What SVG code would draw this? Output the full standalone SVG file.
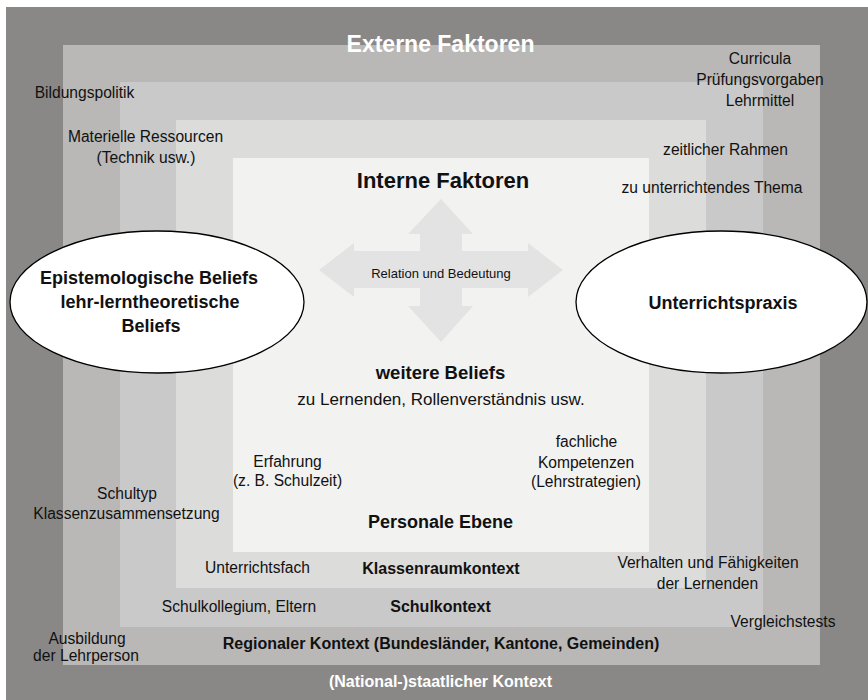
<svg xmlns="http://www.w3.org/2000/svg" width="868" height="700" viewBox="0 0 868 700">
<style>
text { font-family: "Liberation Sans", Arial, sans-serif; fill: #111; text-anchor: middle; }
.r { font-size: 15.6px; }
.b { font-size: 16px; font-weight: bold; }
.w { fill: #ffffff; font-weight: bold; }
.ell { fill: #ffffff; stroke: #000; stroke-width: 1.3; }
.eb { font-size: 18px; font-weight: bold; }
</style>
<rect x="0" y="0" width="868" height="700" fill="#ffffff"/>
<g id="layers">
<rect id="layer-national" x="6" y="7" width="862" height="693" fill="#8a8886"/>
<rect id="layer-regional" x="63" y="45" width="757" height="620" fill="#b9b8b6"/>
<rect id="layer-schule" x="120" y="82" width="643" height="545" fill="#c9c9c9"/>
<rect id="layer-klassenraum" x="176" y="120" width="530" height="468" fill="#dcdcdb"/>
<rect id="layer-personal" x="233" y="158" width="416" height="394" fill="#f2f2f1"/>
</g>
<g id="national">
<text class="w" x="440.5" y="52" style="font-size:23px">Externe Faktoren</text>
<text class="w" x="440.5" y="687" style="font-size:16px">(National-)staatlicher Kontext</text>
</g>
<g id="regional">
<text class="r" x="84.5" y="98">Bildungspolitik</text>
<text class="r" x="760" y="64">Curricula</text>
<text class="r" x="760" y="85">Prüfungsvorgaben</text>
<text class="r" x="760" y="106">Lehrmittel</text>
<text class="r" x="87" y="644">Ausbildung</text>
<text class="r" x="86" y="661">der Lehrperson</text>
<text class="r" x="783" y="627">Vergleichstests</text>
<text class="b" x="441" y="649">Regionaler Kontext (Bundesländer, Kantone, Gemeinden)</text>
</g>
<g id="schule">
<text class="r" x="145.5" y="142">Materielle Ressourcen</text>
<text class="r" x="146" y="163">(Technik usw.)</text>
<text class="r" x="127" y="499">Schultyp</text>
<text class="r" x="126.5" y="519">Klassenzusammensetzung</text>
<text class="r" x="239" y="612">Schulkollegium, Eltern</text>
<text class="b" x="440.5" y="612">Schulkontext</text>
</g>
<g id="klassenraum">
<text class="r" x="725.5" y="155">zeitlicher Rahmen</text>
<text class="r" x="712" y="193">zu unterrichtendes Thema</text>
<text class="r" x="257.5" y="573">Unterrichtsfach</text>
<text class="b" x="441" y="574">Klassenraumkontext</text>
<text class="r" x="708" y="568">Verhalten und Fähigkeiten</text>
<text class="r" x="707.5" y="589">der Lernenden</text>
</g>
<g id="personal">
<text x="443" y="188" style="font-size:22px;font-weight:bold">Interne Faktoren</text>
<text x="440.5" y="379" style="font-size:18.5px;font-weight:bold">weitere Beliefs</text>
<text x="441" y="405" style="font-size:17px">zu Lernenden, Rollenverständnis usw.</text>
<text class="r" x="287.5" y="467">Erfahrung</text>
<text class="r" x="287.5" y="486">(z. B. Schulzeit)</text>
<text class="r" x="586.5" y="447">fachliche</text>
<text class="r" x="586" y="468">Kompetenzen</text>
<text class="r" x="586" y="487">(Lehrstrategien)</text>
<text x="440.5" y="528" style="font-size:18px;font-weight:bold">Personale Ebene</text>
</g>
<g id="connectors">
<g id="relation-arrow">
<polygon fill="#e3e3e3" points="441,199 473,234 462,234 462,251 528,251 528,243 563,270 528,297 528,288 462,288 462,306 473,306 441,342 408,306 420,306 420,288 354,288 354,297 319,270 354,243 354,251 420,251 420,234 408,234"/>
<text x="441" y="278" style="font-size:13px">Relation und Bedeutung</text>
</g>
</g>
<g id="beliefs">
<ellipse class="ell" cx="157" cy="302" rx="147" ry="71"/>
<text class="eb" x="149" y="284">Epistemologische Beliefs</text>
<text class="eb" x="150" y="308">lehr-lerntheoretische</text>
<text class="eb" x="151" y="332">Beliefs</text>
</g>
<g id="unterrichtspraxis">
<ellipse class="ell" cx="721.5" cy="302" rx="145.5" ry="71"/>
<text class="eb" x="723" y="309">Unterrichtspraxis</text>
</g>
</svg>
